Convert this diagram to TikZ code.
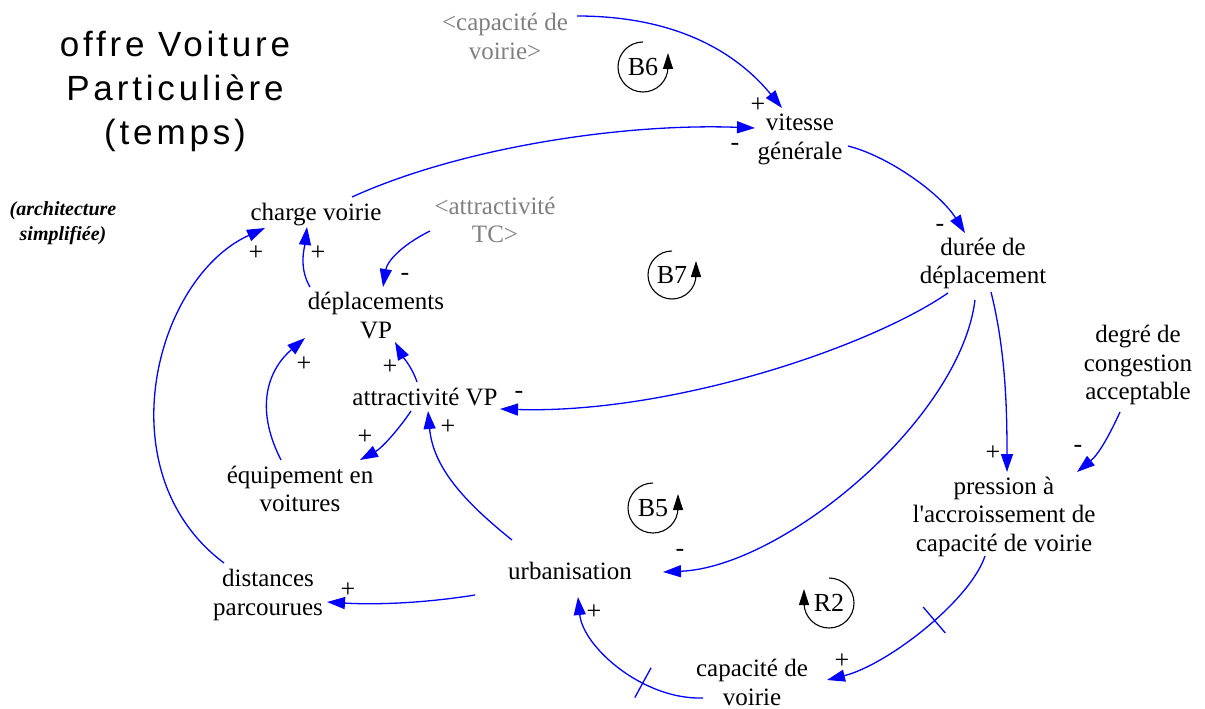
\documentclass[tikz,border=0pt]{standalone}
\usepackage{fontspec}
\setmainfont{Liberation Serif}
\newfontfamily\titlefont[LetterSpace=11]{Liberation Sans}
\usetikzlibrary{arrows.meta,calc,decorations.markings}

\definecolor{linkblue}{RGB}{0,0,255}
\definecolor{shadowgray}{RGB}{128,128,128}

% straight apostrophe glyph, set directly so it stays upright
\newcommand{\straightquote}{\XeTeXglyph\XeTeXcharglyph"0027\relax}

\begin{document}
\begin{tikzpicture}[x=1pt,y=-1pt,
  var/.style={align=center, inner sep=0pt, font=\fontsize{25}{28.5}\selectfont},
  ghost/.style={var, text=shadowgray},
  sgn/.style={inner sep=0pt, font=\fontsize{26}{26}\selectfont},
  looplabel/.style={inner sep=0pt, font=\fontsize{26}{26}\selectfont},
  link/.style={draw=linkblue, line width=1.3pt, -{Triangle[length=18pt,width=12pt]}},
  loopar/.style={draw=black, line width=1.1pt, -{Triangle[length=16pt,width=10pt]}},
  delay/.style={postaction={decorate}, decoration={markings,
    mark=at position #1 with {\draw[linkblue, line width=1.3pt, -] (0,-17) -- (0,17);}}}
]
\fill[white] (0,0) rectangle (1205,709);
\useasboundingbox (0,0) rectangle (1205,709);

% headings
\node[align=center, inner sep=0pt, font=\titlefont\fontsize{35}{44}\selectfont] (title) at (175,91) {offre Voiture\\Particulière\\(temps)};
\node[align=center, inner sep=0pt, font=\fontsize{20}{25}\selectfont\bfseries\itshape] (arch) at (63,223.5) {(architecture\\simplifiée)};

% variables
\node[ghost] (capin) at (505,36.5) {<capacité de\\voirie>};
\node[var] (vit) at (800,139.5) {vitesse\\générale};
\node[var] (cv) at (316,215) {charge voirie};
\node[ghost] (attTC) at (495,220) {<attractivité\\TC>};
\node[var] (dur) at (983,263.5) {durée de\\déplacement};
\node[var] (dep) at (376,315.5) {déplacements\\VP};
\node[var] (degre) at (1138,365) {degré de\\congestion\\acceptable};
\node[var] (attVP) at (425,397) {attractivité VP};
\node[var] (equip) at (300,489) {équipement en\\voitures};
\node[var] (press) at (1004,516.5) {pression à\\l\straightquote accroissement de\\capacité de voirie};
\node[var] (urb) at (570,571) {urbanisation};
\node[var] (dist) at (268,595) {distances\\parcourues};
\node[var] (capv) at (752,682.5) {capacité de\\voirie};

% causal links
\draw[link] ($(capin)+(72,-20.5)$) .. controls +(100,0) and +(-45,-55) .. ($(vit)+(-18,-31.5)$);
\draw[link] ($(cv)+(36,-18)$) .. controls +(110,-50) and +(-130,-5) .. ($(vit)+(-45,-11.5)$);
\draw[link] ($(vit)+(48,6.5)$) .. controls +(40,10) and +(-25,-40) .. ($(dur)+(-18,-30.5)$);
\draw[link] ($(dur)+(-35,29.5)$) .. controls +(-80,55) and +(170,5) .. ($(attVP)+(75,12)$);
\draw[link] ($(dur)+(-8,36.5)$) .. controls +(-15,120) and +(120,-5) .. ($(urb)+(93,1)$);
\draw[link] ($(dur)+(8,28.5)$) .. controls +(15,60) and +(0,-60) .. ($(press)+(3,-44.5)$);
\draw[link] ($(degre)+(-18,47)$) .. controls +(-10,22) and +(22,-18) .. ($(press)+(73,-44.5)$);
\draw[link, delay=0.4] ($(press)+(-19,39.5)$) .. controls +(-15,45) and +(60,-15) .. ($(capv)+(75,-2.5)$);
\draw[link, delay=0.36] ($(capv)+(-49,15.5)$) .. controls +(-60,2) and +(5,50) .. ($(urb)+(8,26)$);
\draw[link] ($(attVP)+(-8,-15)$) .. controls +(-5,-15) and +(8,15) .. ($(dep)+(19,26.5)$);
\draw[link] ($(attVP)+(-14,14)$) .. controls +(-12,18) and +(22,-12) .. ($(equip)+(60,-29)$);
\draw[link] ($(equip)+(-19,-29)$) .. controls +(-28,-55) and +(-35,30) .. ($(dep)+(-71,22.5)$);
\draw[link] ($(urb)+(-58,-31)$) .. controls +(-50,-40) and +(5,55) .. ($(attVP)+(3,14)$);
\draw[link] ($(urb)+(-95,24)$) .. controls +(-50,8) and +(50,3) .. ($(dist)+(59,7)$);
\draw[link] ($(dist)+(-44,-32)$) .. controls +(-120,-90) and +(-110,50) .. ($(cv)+(-51,13)$);
\draw[link] ($(dep)+(-66,-28.5)$) .. controls +(-12,-20) and +(-2,18) .. ($(cv)+(-9,12)$);
\draw[link] ($(attTC)+(-65,11)$) .. controls +(-30,15) and +(4,-25) .. ($(dep)+(7,-28.5)$);

% polarity signs
\node[sgn] (s1) at (758,105) {+};
\node[sgn] (s2) at (735,147) {-};
\node[sgn] (s3) at (940,228) {-};
\node[sgn] (s4) at (519,395) {-};
\node[sgn] (s5) at (680,553) {-};
\node[sgn] (s6) at (993,453) {+};
\node[sgn] (s7) at (1078,449) {-};
\node[sgn] (s8) at (842,661) {+};
\node[sgn] (s9) at (594,612) {+};
\node[sgn] (s10) at (390,367) {+};
\node[sgn] (s11) at (365,437) {+};
\node[sgn] (s12) at (304,364) {+};
\node[sgn] (s13) at (448,427) {+};
\node[sgn] (s14) at (348,590) {+};
\node[sgn] (s15) at (256,253) {+};
\node[sgn] (s16) at (318,253) {+};
\node[sgn] (s17) at (405,277) {-};

% loop identifiers
\node[looplabel] (B6) at (643,67) {B6};
\draw[loopar] (B6.center) ++(270:25) arc[start angle=270, end angle=0, radius=25] -- ++(0,-14);
\node[looplabel] (B7) at (672,275) {B7};
\draw[loopar] (B7.center) ++(270:24) arc[start angle=270, end angle=0, radius=24] -- ++(0,-14);
\node[looplabel] (B5) at (653,508) {B5};
\draw[loopar] (B5.center) ++(270:25) arc[start angle=270, end angle=0, radius=25] -- ++(0,-14);
\node[looplabel] (R2) at (829,603) {R2};
\draw[loopar] (R2.center) ++(270:25) arc[start angle=270, end angle=540, radius=25] -- ++(0,-14);
\end{tikzpicture}
\end{document}
